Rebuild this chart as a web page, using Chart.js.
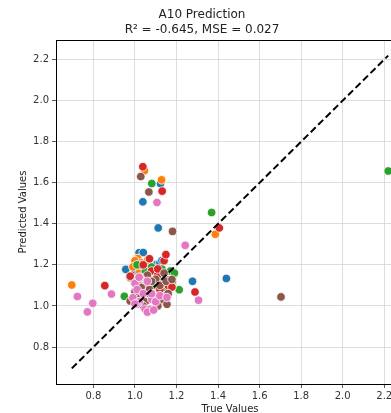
<!DOCTYPE html>
<html lang="en">
<head>
    <meta charset="UTF-8">
    <title>A10 Prediction</title>
    <style>
        body{ margin:0; background:#fff; overflow:hidden; }
        #wrap{ position:relative; width:460px; height:413px; }
    </style>
</head>
<body>
    <div id="wrap"><canvas id="myChart"></canvas></div>

    <script src="https://cdn.jsdelivr.net/npm/chart.js"></script>

    <script>
        // true / predicted values, one pair of arrays per colour group
        var blueTrue   = [1.02, 1.04, 1.01, 1.06, 1.10, 1.12, 1.00, 1.13, 1.08, 1.05, 1.15, 1.03, 1.13, 0.956, 1.038, 1.123, 1.112, 1.277, 1.440]
        var bluePred   = [1.259, 1.26, 1.23, 1.21, 1.20, 1.21, 1.17, 1.14, 1.10, 1.19, 1.13, 1.08, 1.221, 1.178, 1.507, 1.596, 1.380, 1.120, 1.134]
        var orangeTrue = [1.014, 1.00, 1.03, 1.062, 0.99, 1.02, 1.05, 1.09, 1.12, 1.00, 1.14, 1.06, 1.18, 1.07, 0.696, 1.046, 1.128, 1.387]
        var orangePred = [1.231, 1.22, 1.21, 1.226, 1.19, 1.16, 1.14, 1.18, 1.16, 1.12, 1.10, 1.07, 1.12, 1.20, 1.102, 1.659, 1.614, 1.349]
        var greenTrue  = [1.03, 1.05, 1.08, 1.13, 1.17, 0.977, 1.04, 1.10, 1.15, 1.18, 1.07, 1.12, 1.02, 1.19, 1.09, 1.01, 0.949, 1.081, 1.213, 1.369, 2.219]
        var greenPred  = [1.20, 1.17, 1.19, 1.18, 1.17, 1.138, 1.12, 1.13, 1.08, 1.12, 1.06, 1.05, 1.10, 1.16, 1.10, 1.20, 1.047, 1.596, 1.079, 1.455, 1.657]
        var redTrue    = [1.04, 1.08, 1.11, 1.14, 1.02, 1.06, 1.12, 1.16, 1.09, 0.977, 1.178, 1.11, 1.07, 0.855, 1.038, 1.131, 1.149, 1.289, 1.406]
        var redPred    = [1.20, 1.17, 1.15, 1.22, 1.13, 1.11, 1.08, 1.10, 1.04, 1.145, 1.092, 1.18, 1.23, 1.099, 1.678, 1.559, 1.250, 1.068, 1.380]
        var brownTrue  = [1.06, 1.10, 1.14, 1.03, 1.07, 1.12, 1.16, 1.01, 1.05, 1.09, 1.13, 1.154, 0.977, 1.04, 1.11, 1.15, 1.08, 1.02, 1.178, 1.00, 1.028, 1.067, 1.181, 1.703]
        var brownPred  = [1.15, 1.13, 1.16, 1.09, 1.08, 1.10, 1.06, 1.04, 1.02, 1.05, 1.03, 1.008, 1.024, 1.00, 1.00, 1.12, 1.12, 1.06, 1.129, 1.07, 1.630, 1.555, 1.363, 1.044]
        var pinkTrue   = [1.00, 1.025, 1.06, 1.01, 1.04, 1.081, 0.99, 1.02, 1.049, 1.073, 1.10, 1.009, 1.06, 1.09, 1.00, 1.12, 1.154, 1.08, 1.02, 0.723, 0.797, 0.771, 0.887, 1.106, 1.242, 1.306]
        var pinkPred   = [1.11, 1.138, 1.12, 1.08, 1.06, 1.032, 1.04, 1.02, 0.984, 0.984, 1.02, 1.008, 0.97, 0.98, 1.01, 1.05, 1.041, 1.06, 1.14, 1.046, 1.013, 0.971, 1.058, 1.504, 1.295, 1.028]

        var xTicks = [0.8, 1.0, 1.2, 1.4, 1.6, 1.8, 2.0, 2.2]
        var axisMin = 0.62
        var axisMax = 2.295

        const pts = (xs, ys) => xs.map((x, i) => ({x: x, y: ys[i]}))

        var allTrue = [].concat(blueTrue, orangeTrue, greenTrue, redTrue, brownTrue, pinkTrue)
        var lo = Math.min(...allTrue)
        var hi = Math.max(...allTrue)

        const group = (label, color, xs, ys, order) => ({
            type: 'scatter',
            label: label,
            data: pts(xs, ys),
            backgroundColor: color,
            borderColor: '#ffffff',
            borderWidth: 0.8,
            pointRadius: 4.3,
            order: order
        })

        // black frame round the plot area, like matplotlib spines
        var frame = {
            id: 'frame',
            afterDatasetsDraw(chart) {
                var a = chart.chartArea
                var c = chart.ctx
                c.save()
                c.strokeStyle = '#000'
                c.lineWidth = 1
                c.strokeRect(Math.round(a.left) + 0.5, Math.round(a.top) + 0.5, a.right - a.left, a.bottom - a.top)
                c.restore()
            }
        }

        var font = { family: 'DejaVu Sans', size: 10 }

        var ctx = document.getElementById('myChart')
        var myChart = new Chart(ctx, {
            data: {
                datasets: [
                    {
                        type: 'line',
                        data: [{x: lo, y: lo}, {x: hi, y: hi}],
                        borderColor: '#000',
                        borderWidth: 2,
                        borderDash: [7, 3.5],
                        pointRadius: 0,
                        fill: false,
                        order: 0
                    },
                    group('0', '#1f77b4', blueTrue, bluePred, 6),
                    group('1', '#ff7f0e', orangeTrue, orangePred, 5),
                    group('2', '#2ca02c', greenTrue, greenPred, 4),
                    group('3', '#d62728', redTrue, redPred, 3),
                    group('5', '#8c564b', brownTrue, brownPred, 2),
                    group('6', '#e377c2', pinkTrue, pinkPred, 1)
                ]
            },
            plugins: [frame],
            options: {
                responsive: true,
                maintainAspectRatio: false,
                animation: false,
                layout: { padding: { left: 0, right: 56, top: 0, bottom: 0 } },
                plugins: {
                    legend: { display: false },
                    tooltip: { enabled: false },
                    title: {
                        display: true,
                        text: ['A10 Prediction', 'R\u00b2 = -0.645, MSE = 0.027'],
                        color: '#222',
                        font: { family: 'DejaVu Sans', size: 12, weight: 'normal', lineHeight: 1.25 },
                        padding: { top: 7.5, bottom: 2.5 }
                    }
                },
                scales: {
                    x: {
                        type: 'linear',
                        min: axisMin,
                        max: axisMax,
                        afterBuildTicks: s => { s.ticks = xTicks.map(v => ({value: v})) },
                        afterFit: s => { s.height = 29 },
                        ticks: { color: '#333', font: font, padding: 2, maxRotation: 0, callback: v => v.toFixed(1) },
                        grid: { color: '#d4d4d4', lineWidth: 0.8, tickLength: 4, tickColor: '#333' },
                        border: { display: false },
                        title: { display: true, text: 'True Values', color: '#222', font: { family: 'DejaVu Sans', size: 10, lineHeight: 1 }, padding: { top: 0, bottom: -1 } }
                    },
                    y: {
                        type: 'linear',
                        min: axisMin,
                        max: axisMax,
                        afterBuildTicks: s => { s.ticks = xTicks.map(v => ({value: v})) },
                        afterFit: s => { s.width = 56 },
                        ticks: { color: '#333', font: font, padding: 3, callback: v => v.toFixed(1) },
                        grid: { color: '#d4d4d4', lineWidth: 0.8, tickLength: 4, tickColor: '#333' },
                        border: { display: false },
                        title: { display: true, text: 'Predicted Values', color: '#222', font: { family: 'DejaVu Sans', size: 10, lineHeight: 1.2 }, padding: { top: 17, bottom: 0 } }
                    }
                }
            }
        })
    </script>
</body>
</html>
